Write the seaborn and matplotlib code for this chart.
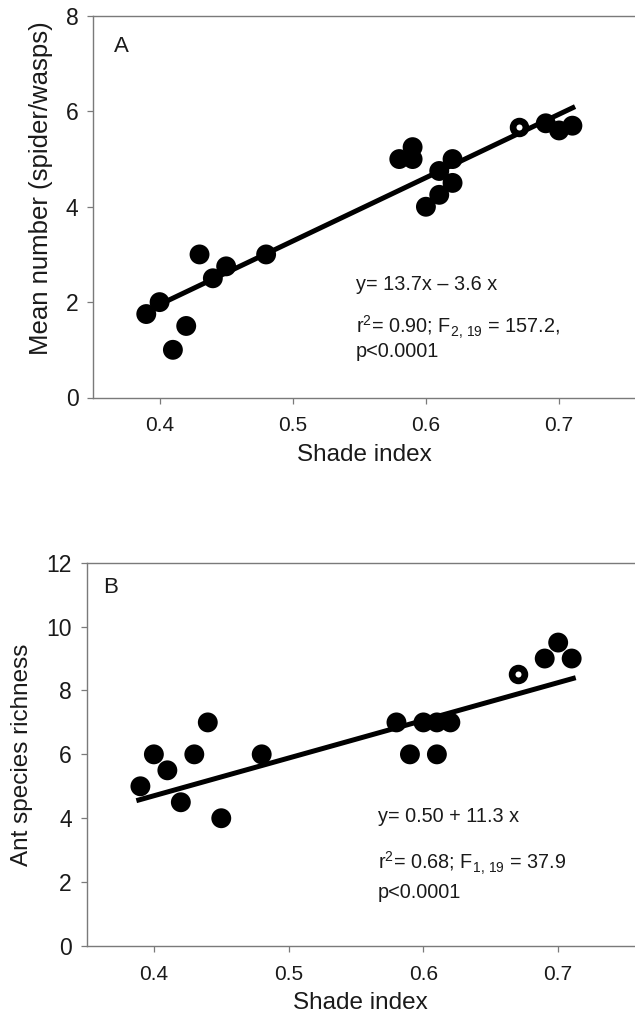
import matplotlib
matplotlib.use('Agg')
import matplotlib.pyplot as plt
import pandas as pd
import seaborn as sns

# Panel A: spiders/wasps vs shade index
shade_a = [0.39, 0.40, 0.41, 0.42, 0.43, 0.44, 0.45, 0.48, 0.58, 0.59,
           0.59, 0.60, 0.61, 0.61, 0.62, 0.62, 0.69, 0.70, 0.71]
number_a = [1.75, 2.0, 1.0, 1.5, 3.0, 2.5, 2.75, 3.0, 5.0, 5.25,
            5.0, 4.0, 4.75, 4.25, 5.0, 4.5, 5.75, 5.6, 5.7]
open_shade_a = [0.67]
open_number_a = [5.67]
fit_x_a = [0.40, 0.712]
fit_y_a = [1.95, 6.10]

# Panel B: ant species richness vs shade index
shade_b = [0.39, 0.40, 0.41, 0.42, 0.43, 0.44, 0.45, 0.48, 0.58, 0.59,
           0.60, 0.61, 0.61, 0.62, 0.69, 0.70, 0.71]
richness_b = [5.0, 6.0, 5.5, 4.5, 6.0, 7.0, 4.0, 6.0, 7.0, 6.0,
              7.0, 7.0, 6.0, 7.0, 9.0, 9.5, 9.0]
open_shade_b = [0.67]
open_richness_b = [8.5]
fit_x_b = [0.387, 0.713]
fit_y_b = [4.55, 8.40]

sns.set_theme(style='white')
plt.rcParams['font.family'] = ['Liberation Sans', 'DejaVu Sans']
plt.rcParams['mathtext.fontset'] = 'custom'
plt.rcParams['mathtext.rm'] = 'Liberation Sans'
plt.rcParams['mathtext.it'] = 'Liberation Sans:italic'

fig = plt.figure(figsize=(6.35, 10.25), dpi=100)
ax_a = fig.add_axes([93 / 635, 1 - 397.5 / 1025, 1 - 93 / 635, 381.5 / 1025])
ax_b = fig.add_axes([86.5 / 635, 1 - 946 / 1025, 1 - 86.5 / 635, 383.3 / 1025])

txt_col = '#1a1a1a'


def draw_panel(ax, xs, ys, ox, oy, fx, fy, ylabel, ylabel_size, ylim, yticks,
               letter, eq, stats, letter_pos, text_pos, line_gap):
    df = pd.DataFrame({'x': xs, 'y': ys})
    odf = pd.DataFrame({'x': ox, 'y': oy})
    fdf = pd.DataFrame({'x': fx, 'y': fy})
    sns.lineplot(data=fdf, x='x', y='y', ax=ax, color='black', lw=3.6,
                 solid_capstyle='butt')
    sns.scatterplot(data=df, x='x', y='y', ax=ax, color='black', s=205,
                    edgecolor='none', zorder=3)
    sns.scatterplot(data=odf, x='x', y='y', ax=ax, facecolor='white',
                    edgecolor='black', s=85, linewidth=4.8, zorder=3)
    ax.set_xlim(0.35, 0.757)
    ax.set_ylim(*ylim)
    ax.set_xticks([0.4, 0.5, 0.6, 0.7])
    ax.set_xticklabels(['0.4', '0.5', '0.6', '0.7'])
    ax.set_yticks(yticks)
    ax.set_xlabel('Shade index', fontsize=17.5, labelpad=6, color=txt_col)
    ax.set_ylabel(ylabel, fontsize=ylabel_size, color=txt_col)
    ax.spines['right'].set_visible(False)
    for side in ['left', 'bottom', 'top']:
        ax.spines[side].set_visible(True)
        ax.spines[side].set_color('#7a7a7a')
        ax.spines[side].set_linewidth(1.0)
    ax.tick_params(axis='both', direction='out', length=4.5, width=0.9,
                   color='#7a7a7a', labelcolor=txt_col)
    ax.tick_params(axis='x', labelsize=15, pad=9)
    ax.tick_params(axis='y', labelsize=16.5, pad=6)
    ax.tick_params(top=False, right=False, bottom=True, left=True)
    ax.text(letter_pos[0], letter_pos[1], letter, fontsize=16, va='center',
            ha='left', color=txt_col)
    tx, ty = text_pos
    ax.text(tx, ty, eq, fontsize=14.3, va='center', ha='left', color=txt_col)
    ax.text(tx, ty - line_gap[0], stats[0], fontsize=14.3, va='center',
            ha='left', color=txt_col)
    ax.text(tx, ty - line_gap[1], stats[1], fontsize=14.3, va='center',
            ha='left', color=txt_col)


draw_panel(ax_a, shade_a, number_a, open_shade_a, open_number_a,
           fit_x_a, fit_y_a, 'Mean number (spider/wasps)', 18.5, (0, 8),
           [0, 2, 4, 6, 8], 'A', 'y= 13.7x \u2013 3.6 x',
           [r'r$^{2}$= 0.90; F$_{\mathregular{2,\,19}}$ = 157.2,', 'p<0.0001'],
           (0.366, 7.37), (0.5475, 2.37), (0.91, 1.40))
ax_a.yaxis.set_label_coords(-0.074, 0.55)

draw_panel(ax_b, shade_b, richness_b, open_shade_b, open_richness_b,
           fit_x_b, fit_y_b, 'Ant species richness', 17.5, (0, 12),
           [0, 2, 4, 6, 8, 10, 12], 'B', 'y= 0.50 + 11.3 x',
           [r'r$^{2}$= 0.68; F$_{\mathregular{1,\,19}}$ = 37.9', 'p<0.0001'],
           (0.362, 11.22), (0.566, 4.05), (1.46, 2.38))
ax_b.yaxis.set_label_coords(-0.0975, 0.5)

fig.savefig('out.png', dpi=100)
